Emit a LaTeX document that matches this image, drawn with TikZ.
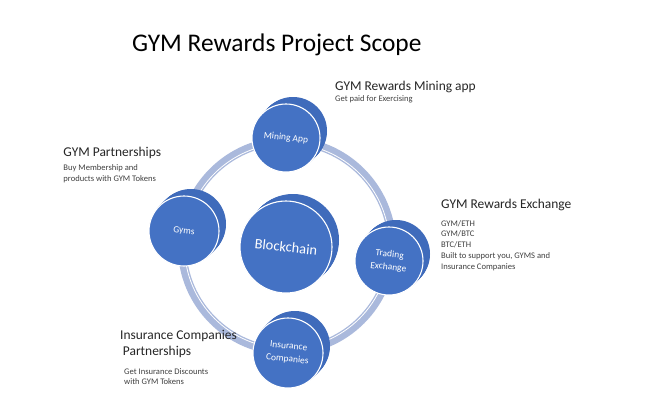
\documentclass[tikz,border=0pt]{standalone}
\usepackage{fontspec}
\setmainfont{Carlito}
\definecolor{gblue}{HTML}{4472C4}
\definecolor{backblue}{HTML}{3F6BBB}
\definecolor{ringc}{HTML}{AAB9DC}
\definecolor{headc}{HTML}{262626}
\definecolor{smallc}{HTML}{404040}
\begin{document}
\begin{tikzpicture}[x=1bp,y=-1bp,
  frontdisc/.style={circle, fill=gblue, draw=white, line width=1.1bp, inner sep=0pt, minimum size=#1},
  disctext/.style={text=white, align=center, rotate=-6, inner sep=0pt, font=\fontsize{9.5}{13}\selectfont},
  heading/.style={anchor=base west, inner sep=0pt, text=headc, font=\fontsize{13.5}{16}\selectfont},
  smalltext/.style={anchor=base west, inner sep=0pt, text=smallc, font=\fontsize{8.6}{10.8}\selectfont, align=left},
]
\useasboundingbox[fill=white] (0,0) rectangle (651,414);

% title
\node[anchor=base west, inner sep=0pt, font=\fontsize{25.5}{30}\selectfont] (title) at (132,51.7) {GYM Rewards Project Scope};

% ring
\coordinate (ringc) at (287,246);
\draw[ringc, line width=8.5bp] (ringc) circle (105);
\draw[white, line width=0.8bp] (ringc) circle (102.5);

% back parts of the discs
\foreach \x/\y/\r in {286/138/34, 184/231/35, 389/261/34, 288/353/35, 286/247/46} {
  \foreach \k in {0.5,1,...,7} \fill[backblue] (\x+\k,\y-\k) circle (\r);
}

% front discs
\node[frontdisc=68bp] (mining) at (286,138) {};
\node[frontdisc=70bp] (gyms) at (184,231) {};
\node[frontdisc=68bp] (trade) at (389,261) {};
\node[frontdisc=70bp] (ins) at (288,353) {};
\node[frontdisc=92bp] (chain) at (286,247) {};

\node[disctext] (miningt) at (mining) {Mining App};
\node[disctext] (gymst) at (gyms) {Gyms};
\node[disctext] (tradet) at (trade) {Trading\\Exchange};
\node[disctext] (inst) at (ins) {Insurance\\Companies};
\node[disctext, font=\fontsize{14.5}{17}\selectfont] (chaint) at (chain) {Blockchain};

% labels
\node[heading] (h1) at (335,90.7) {GYM Rewards Mining app};
\node[smalltext] (s1) at (335,101.7) {Get paid for Exercising};

\node[heading] (h2) at (63.3,156.7) {GYM Partnerships};
\node[smalltext] (s2a) at (63.3,170.7) {Buy Membership and};
\node[smalltext] (s2b) at (63.3,181.5) {products with GYM Tokens};

\node[heading] (h3) at (441,208.3) {GYM Rewards Exchange};
\node[smalltext] (s3a) at (441,226) {GYM/ETH};
\node[smalltext] (s3b) at (441,236.8) {GYM/BTC};
\node[smalltext] (s3c) at (441,247.6) {BTC/ETH};
\node[smalltext] (s3d) at (441,258.4) {Built to support you, GYMS and};
\node[smalltext] (s3e) at (441,269.2) {Insurance Companies};

\node[heading] (h4a) at (120,339.3) {Insurance Companies};
\node[heading] (h4b) at (122.7,355.7) {Partnerships};
\node[smalltext] (s4a) at (124,374) {Get Insurance Discounts};
\node[smalltext] (s4b) at (124,384.8) {with GYM Tokens};
\end{tikzpicture}
\end{document}
